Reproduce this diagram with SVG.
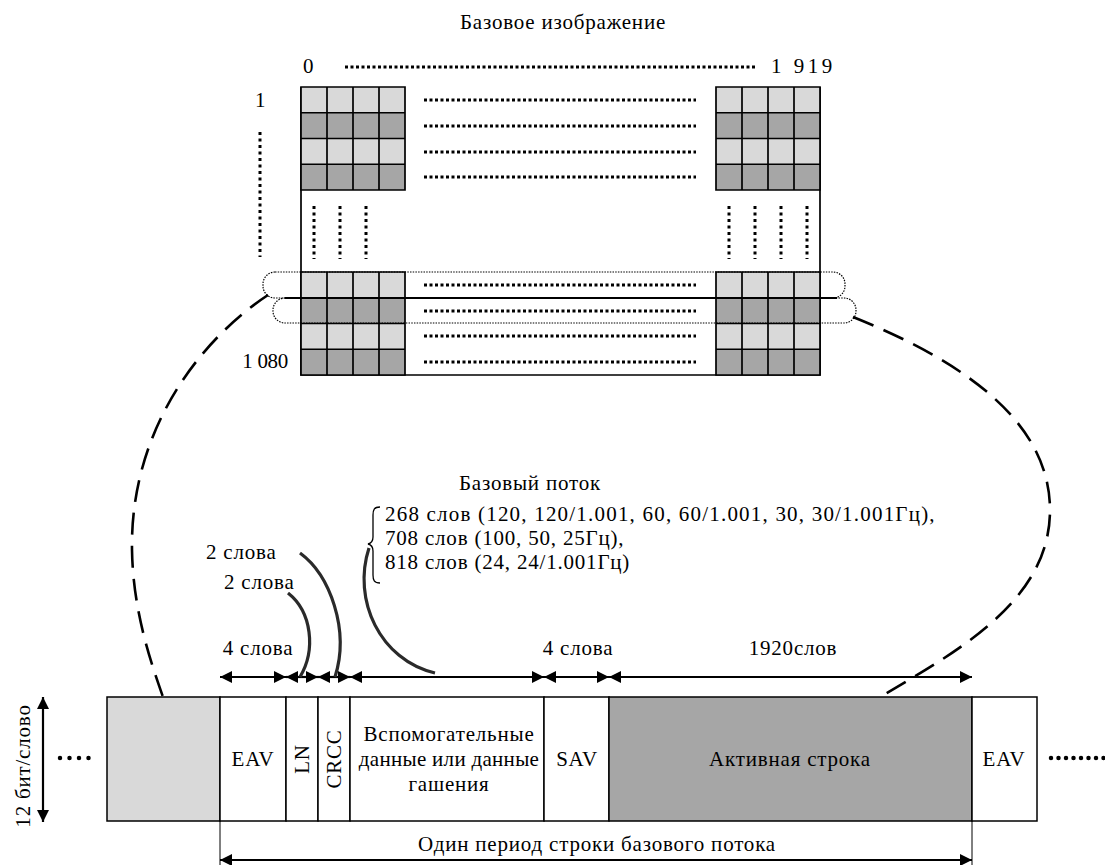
<svg xmlns="http://www.w3.org/2000/svg" xmlns:xlink="http://www.w3.org/1999/xlink" width="1105" height="865" viewBox="0 0 1105 865">
<style>
.t{font-family:"Liberation Serif","Times New Roman",serif;font-size:21px;letter-spacing:0.8px;fill:#000}
.m{text-anchor:middle}
.dot{fill:none;stroke:#000;stroke-width:3;stroke-dasharray:3 2.5}
.vdot{fill:none;stroke:#000;stroke-width:3;stroke-dasharray:3 3.5}
.fine{fill:none;stroke:#000;stroke-width:1.2;stroke-dasharray:1.5 1.2}
.big{fill:none;stroke:#000;stroke-width:2.6;stroke-dasharray:22 11}
.lead{fill:none;stroke:#2a2a2a;stroke-width:3.2}
.dim{fill:none;stroke:#000;stroke-width:2.2}
.cell{fill:none;stroke:#000;stroke-width:1.7}
.ball{fill:none;stroke:#000;stroke-width:4.5;stroke-linecap:round}
</style>
<defs>
<marker id="ah" viewBox="0 0 12 12" refX="12" refY="6" markerWidth="12" markerHeight="12" markerUnits="userSpaceOnUse" orient="auto-start-reverse">
<path d="M0,0L12,6L0,12Z" fill="#000"/>
</marker>
<g id="blk">
<rect x="0" y="0" width="104" height="25.75" fill="#d9d9d9"/>
<rect x="0" y="25.75" width="104" height="25.75" fill="#a6a6a6"/>
<rect x="0" y="51.5" width="104" height="25.75" fill="#d9d9d9"/>
<rect x="0" y="77.25" width="104" height="25.75" fill="#a6a6a6"/>
<path class="cell" d="M0,0H104V103H0Z M26,0V103 M52,0V103 M78,0V103 M0,25.75H104 M0,51.5H104 M0,77.25H104"/>
</g>
</defs>
<rect width="1105" height="865" fill="#fff"/>

<g id="base-image">
<text class="t m" x="563" y="29">Базовое изображение</text>
<text class="t" x="303" y="73">0</text>
<path class="dot" d="M345,67H757"/>
<text class="t" x="771" y="73" style="letter-spacing:3.5px">1 919</text>
<text class="t" x="255" y="107">1</text>
<path class="vdot" d="M260,132V257"/>
<text class="t" x="288" y="368" style="text-anchor:end;letter-spacing:-0.3px">1 080</text>
<path class="cell" d="M301,87V375H820V87"/>
<use xlink:href="#blk" x="301" y="87"/>
<use xlink:href="#blk" x="716" y="87"/>
<use xlink:href="#blk" x="301" y="272"/>
<use xlink:href="#blk" x="716" y="272"/>
<path class="dot" d="M424,100H696M424,126H696M424,152H696M424,177H696M424,285H696M424,311H696M424,336H696M424,362H696"/>
<path class="vdot" d="M314,206V259M340,206V259M366,206V259M729,206V259M755,206V259M781,206V259M807,206V259"/>
<rect class="fine" x="263" y="272" width="582" height="26" rx="12"/>
<rect class="fine" x="273" y="298" width="583" height="25" rx="12"/>
<path d="M285,298H837" stroke="#000" stroke-width="2" fill="none"/>
</g>

<g id="stream-labels">
<text class="t m" x="530" y="490">Базовый поток</text>
<path d="M380,507C374,507 373,510 373,515V537C373,541 372,543 368,544C372,545 373,547 373,551V575C373,580 374,583 380,583" fill="none" stroke="#000" stroke-width="1.3"/>
<text class="t" x="385" y="521" style="letter-spacing:1.2px">268 слов (120, 120/1.001, 60, 60/1.001, 30, 30/1.001Гц),</text>
<text class="t" x="385" y="545">708 слов (100, 50, 25Гц),</text>
<text class="t" x="385" y="569">818 слов (24, 24/1.001Гц)</text>
<text class="t" x="206" y="559">2 слова</text>
<text class="t" x="224" y="589">2 слова</text>
<text class="t m" x="258" y="655">4 слова</text>
<text class="t m" x="578" y="655">4 слова</text>
<text class="t m" x="793" y="655">1920слов</text>
</g>

<g id="stream">
<rect x="107" y="697" width="113" height="124" fill="#d9d9d9" stroke="#000" stroke-width="1.5"/>
<rect x="220" y="697" width="66" height="124" fill="#fff" stroke="#000" stroke-width="1.5"/>
<rect x="286" y="697" width="32" height="124" fill="#fff" stroke="#000" stroke-width="1.5"/>
<rect x="318" y="697" width="32" height="124" fill="#fff" stroke="#000" stroke-width="1.5"/>
<rect x="350" y="697" width="194" height="124" fill="#fff" stroke="#000" stroke-width="1.5"/>
<rect x="544" y="697" width="65" height="124" fill="#fff" stroke="#000" stroke-width="1.5"/>
<rect x="609" y="697" width="363" height="124" fill="#a6a6a6" stroke="#000" stroke-width="1.5"/>
<rect x="972" y="697" width="65" height="124" fill="#fff" stroke="#000" stroke-width="1.5"/>
<text class="t m" x="253" y="766">EAV</text>
<text class="t m" transform="translate(309,759) rotate(-90)">LN</text>
<text class="t m" transform="translate(341,759) rotate(-90)">CRCC</text>
<text class="t m" x="449" y="741">Вспомогательные</text>
<text class="t m" x="449" y="766" style="letter-spacing:0.3px">данные или данные</text>
<text class="t m" x="449" y="791">гашения</text>
<text class="t m" x="577" y="766">SAV</text>
<text class="t m" x="790" y="766">Активная строка</text>
<text class="t m" x="1004" y="766">EAV</text>
<text class="t m" transform="translate(30,766) rotate(-90)">12 бит/слово</text>
<text class="t m" x="597" y="851">Один период строки базового потока</text>
</g>

<g id="connectors">
<path class="ball" d="M60,758H89" stroke-dasharray="0 9.5"/>
<path class="ball" d="M1051,758H1105" stroke-dasharray="0 7.5"/>
<path class="dim" d="M43,697V822" marker-start="url(#ah)" marker-end="url(#ah)"/>
<path class="dim" d="M220,677H286" marker-start="url(#ah)" marker-end="url(#ah)"/>
<path class="dim" d="M286,677H318" marker-start="url(#ah)" marker-end="url(#ah)"/>
<path class="dim" d="M318,677H350" marker-start="url(#ah)" marker-end="url(#ah)"/>
<path class="dim" d="M350,677H544" marker-start="url(#ah)" marker-end="url(#ah)"/>
<path class="dim" d="M544,677H609" marker-start="url(#ah)" marker-end="url(#ah)"/>
<path class="dim" d="M609,677H972" marker-start="url(#ah)" marker-end="url(#ah)"/>
<path d="M220,821V865M972,821V865" stroke="#000" stroke-width="1" fill="none"/>
<path class="dim" d="M220,860H972" marker-start="url(#ah)" marker-end="url(#ah)"/>
<path class="lead" d="M288,593C312,612 316,650 300,677"/>
<path class="lead" d="M300,553C330,575 350,630 335,677"/>
<path class="lead" d="M369,548C352,600 380,660 435,673"/>
<path class="big" d="M268,295C200,340 130,430 132,550C133,610 150,660 163,697"/>
<path class="big" d="M853,317C960,360 1050,420 1050,510C1050,600 960,650 880,697"/>
</g>
</svg>
